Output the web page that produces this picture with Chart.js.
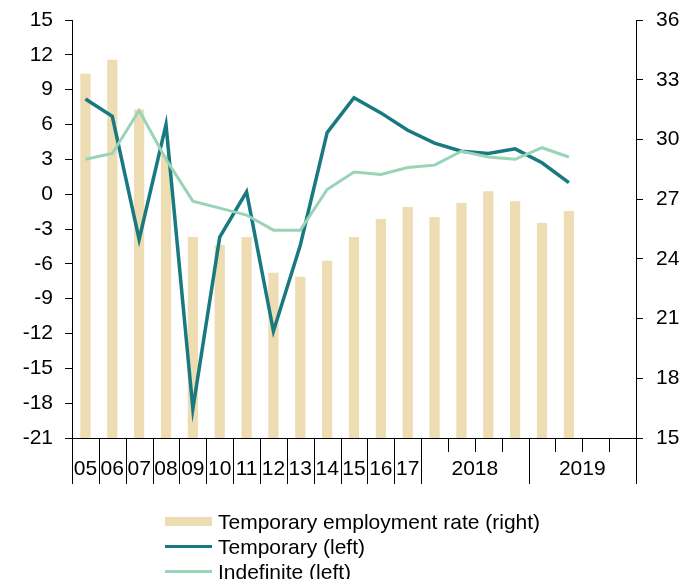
<!DOCTYPE html>
<html>
<head>
<meta charset="utf-8">
<script src="https://cdn.jsdelivr.net/npm/chart.js@4.4.0/dist/chart.umd.min.js"></script>
<style>
  html, body { margin: 0; padding: 0; background: #fff; }
  #wrap { position: relative; width: 688px; height: 579px; overflow: hidden; }
  #chart { position: absolute; left: 0; top: 0; }
  #legend { position: absolute; left: 165px; top: 509px; font-family: "Liberation Sans", Arial, sans-serif; font-size: 21px; line-height: 24px; color: #000; }
  .row { display: flex; align-items: center; height: 25px; white-space: nowrap; }
  .sw { width: 47px; margin-right: 6px; flex: none; }
  .sw.bar { height: 9px; background: #EEDCB2; }
  .sw.teal { height: 3px; background: #187A80; }
  .sw.mint { height: 3px; background: #9AD4B7; }
</style>
</head>
<body>
<div id="wrap">
  <canvas id="chart" width="688" height="579"></canvas>
  <div id="legend">
    <div class="row"><span class="sw bar"></span><span>Temporary employment rate (right)</span></div>
    <div class="row"><span class="sw teal"></span><span>Temporary (left)</span></div>
    <div class="row"><span class="sw mint"></span><span>Indefinite (left)</span></div>
  </div>
</div>
<script>
// Periods: annual 2005-2017, then quarterly 2018-2019
const periods = ['2005','2006','2007','2008','2009','2010','2011','2012','2013','2014','2015','2016','2017',
                 '2018Q1','2018Q2','2018Q3','2018Q4','2019Q1','2019Q2','2019Q3','2019Q4'];

// Axis labels and how many periods each one spans
const axisGroups = ['05','06','07','08','09','10','11','12','13','14','15','16','17','2018','2019'];
const groupSpans = [1,1,1,1,1,1,1,1,1,1,1,1,1,4,4];

// Temporary employment rate, % (right axis)
const temporaryRate = [33.3, 34.0, 31.5, 29.2, 25.1, 24.7, 25.1, 23.3, 23.1, 23.9, 25.1, 26.0, 26.6,
                       26.1, 26.8, 27.4, 26.9, 25.8, 26.4, null, null];

// Employment growth, % y/y (left axis)
const temporaryGrowth = [8.2, 6.7, -3.9, 6.0, -18.5, -3.7, 0.2, -11.8, -4.4, 5.3, 8.3, 7.0, 5.5,
                         4.4, 3.7, 3.5, 3.9, 2.7, 1.0, null, null];
const indefiniteGrowth = [3.0, 3.5, 7.2, 3.0, -0.6, -1.2, -1.8, -3.1, -3.1, 0.4, 1.9, 1.7, 2.3,
                          2.5, 3.7, 3.2, 3.0, 4.0, 3.2, null, null];

const FONT = { family: '"Liberation Sans", Arial, sans-serif', size: 21 };

// Grouped category axis: long ticks between groups, short ticks between quarters
const groupedAxis = {
  id: 'groupedAxis',
  afterDraw(chart) {
    const x = chart.scales.x;
    const ctx = chart.ctx;
    const base = chart.chartArea.bottom;
    const slot = (x.right - x.left) / periods.length;
    const edge = i => x.getPixelForValue(i) - slot / 2;
    const tick = (px, len) => {
      ctx.beginPath();
      ctx.moveTo(Math.round(px) + 0.5, base);
      ctx.lineTo(Math.round(px) + 0.5, base + len);
      ctx.stroke();
    };
    ctx.save();
    ctx.strokeStyle = '#000';
    ctx.lineWidth = 1;
    ctx.fillStyle = '#000';
    ctx.font = `${FONT.size}px ${FONT.family}`;
    ctx.textAlign = 'center';
    ctx.textBaseline = 'middle';
    let i = 0;
    axisGroups.forEach((label, g) => {
      const span = groupSpans[g];
      tick(edge(i), 46);
      for (let k = 1; k < span; k++) tick(edge(i + k), 14);
      ctx.fillText(label, (edge(i) + edge(i + span)) / 2, base + 31);
      i += span;
    });
    tick(edge(i), 46);
    ctx.restore();
  }
};

// Value axes keep a fixed width and do not reserve room for end labels
const fixWidth = w => s => { s.width = w; s.paddingTop = 0; s.paddingBottom = 0; };

new Chart(document.getElementById('chart'), {
  data: {
    labels: periods,
    datasets: [
      {
        type: 'line',
        label: 'Indefinite (left)',
        data: indefiniteGrowth,
        yAxisID: 'y',
        borderColor: '#9AD4B7',
        borderWidth: 3,
        pointRadius: 0,
        tension: 0,
        order: 1
      },
      {
        type: 'line',
        label: 'Temporary (left)',
        data: temporaryGrowth,
        yAxisID: 'y',
        borderColor: '#187A80',
        borderWidth: 3.5,
        pointRadius: 0,
        tension: 0,
        order: 2
      },
      {
        type: 'bar',
        label: 'Temporary employment rate (right)',
        data: temporaryRate,
        yAxisID: 'y1',
        backgroundColor: '#EEDCB2',
        barPercentage: 0.38,
        categoryPercentage: 1,
        order: 3
      }
    ]
  },
  options: {
    responsive: false,
    animation: false,
    devicePixelRatio: 1,
    layout: { padding: { top: 20, left: 0, right: 0, bottom: 0 } },
    plugins: { legend: { display: false }, tooltip: { enabled: false } },
    scales: {
      x: {
        type: 'category',
        offset: true,
        grid: { display: false },
        ticks: { display: false },
        border: { display: true, color: '#000', width: 1 },
        afterFit(s) { s.height = 141; }
      },
      y: {
        position: 'left',
        min: -21,
        max: 15,
        ticks: { stepSize: 3, color: '#000', font: FONT, padding: 12 },
        grid: { drawOnChartArea: false, tickLength: 7, color: '#000', tickColor: '#000' },
        border: { display: true, color: '#000', width: 1 },
        afterFit: fixWidth(72)
      },
      y1: {
        position: 'right',
        min: 15,
        max: 36,
        ticks: { stepSize: 3, color: '#000', font: FONT, padding: 13 },
        grid: { drawOnChartArea: false, tickLength: 7, color: '#000', tickColor: '#000' },
        border: { display: true, color: '#000', width: 1 },
        afterFit: fixWidth(52)
      }
    }
  },
  plugins: [groupedAxis]
});
</script>
</body>
</html>
